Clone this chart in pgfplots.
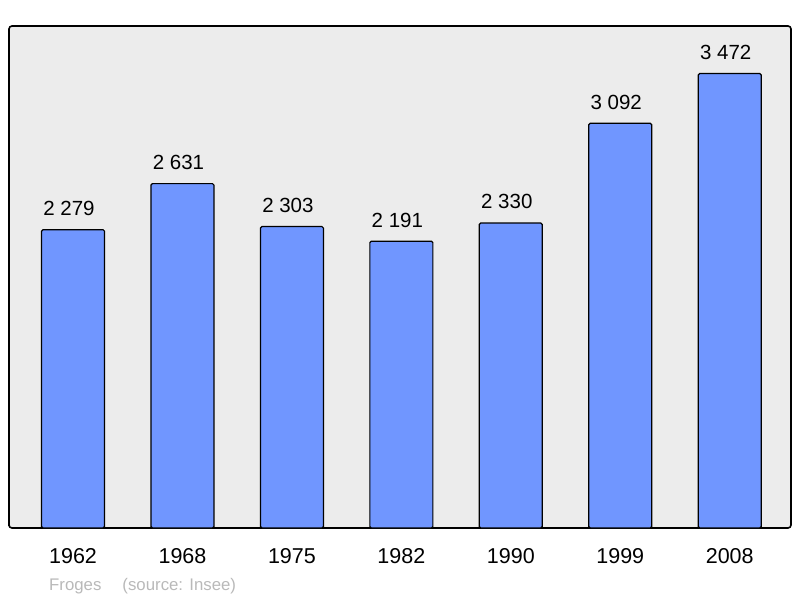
\documentclass[border=0pt]{standalone}
\usepackage{pgfplots}
\pgfplotsset{compat=1.18}
\usepackage{fontspec}
\setmainfont{Liberation Sans}
\definecolor{barblue}{RGB}{112,150,255}
\definecolor{plotbg}{RGB}{236,236,236}
\definecolor{srcgray}{RGB}{185,185,185}
\begin{document}
\begin{tikzpicture}[x=1pt,y=1pt]
\path[use as bounding box] (-9,-70) rectangle (791,528);
\begin{axis}[
  at={(0,0)}, anchor=south west,
  scale only axis, width=782pt, height=502pt,
  xmin=-0.585, xmax=6.56, ymin=0, ymax=3835,
  axis background/.style={fill=plotbg},
  axis line style={line width=1.6pt, rounded corners=3pt},
  ytick=\empty,
  xtick={0,...,6},
  xticklabels={1962,1968,1975,1982,1990,1999,2008},
  major tick length=0pt,
  xticklabel style={font=\fontsize{21.5}{25}\selectfont, yshift=-17pt},
  ybar, bar width=63pt,
  nodes near coords={\pgfmathprintnumber[assume math mode=true,1000 sep={\ }]{\pgfplotspointmeta}},
  every node near coord/.append style={font=\fontsize{20.5}{24}\selectfont, yshift=10pt, xshift=-4pt},
]
\addplot[fill=barblue, draw=black, line width=1.2pt, rounded corners=1.5pt]
  coordinates {(0,2279)(1,2631)(2,2303)(3,2191)(4,2330)(5,3092)(6,3472)};
\end{axis}
\node[anchor=base west, text=srcgray, font=\fontsize{16.8}{20}\selectfont, inner sep=0pt]
  at (40,-62) {Froges\hspace{21pt}(source: Insee)};
\end{tikzpicture}
\end{document}
